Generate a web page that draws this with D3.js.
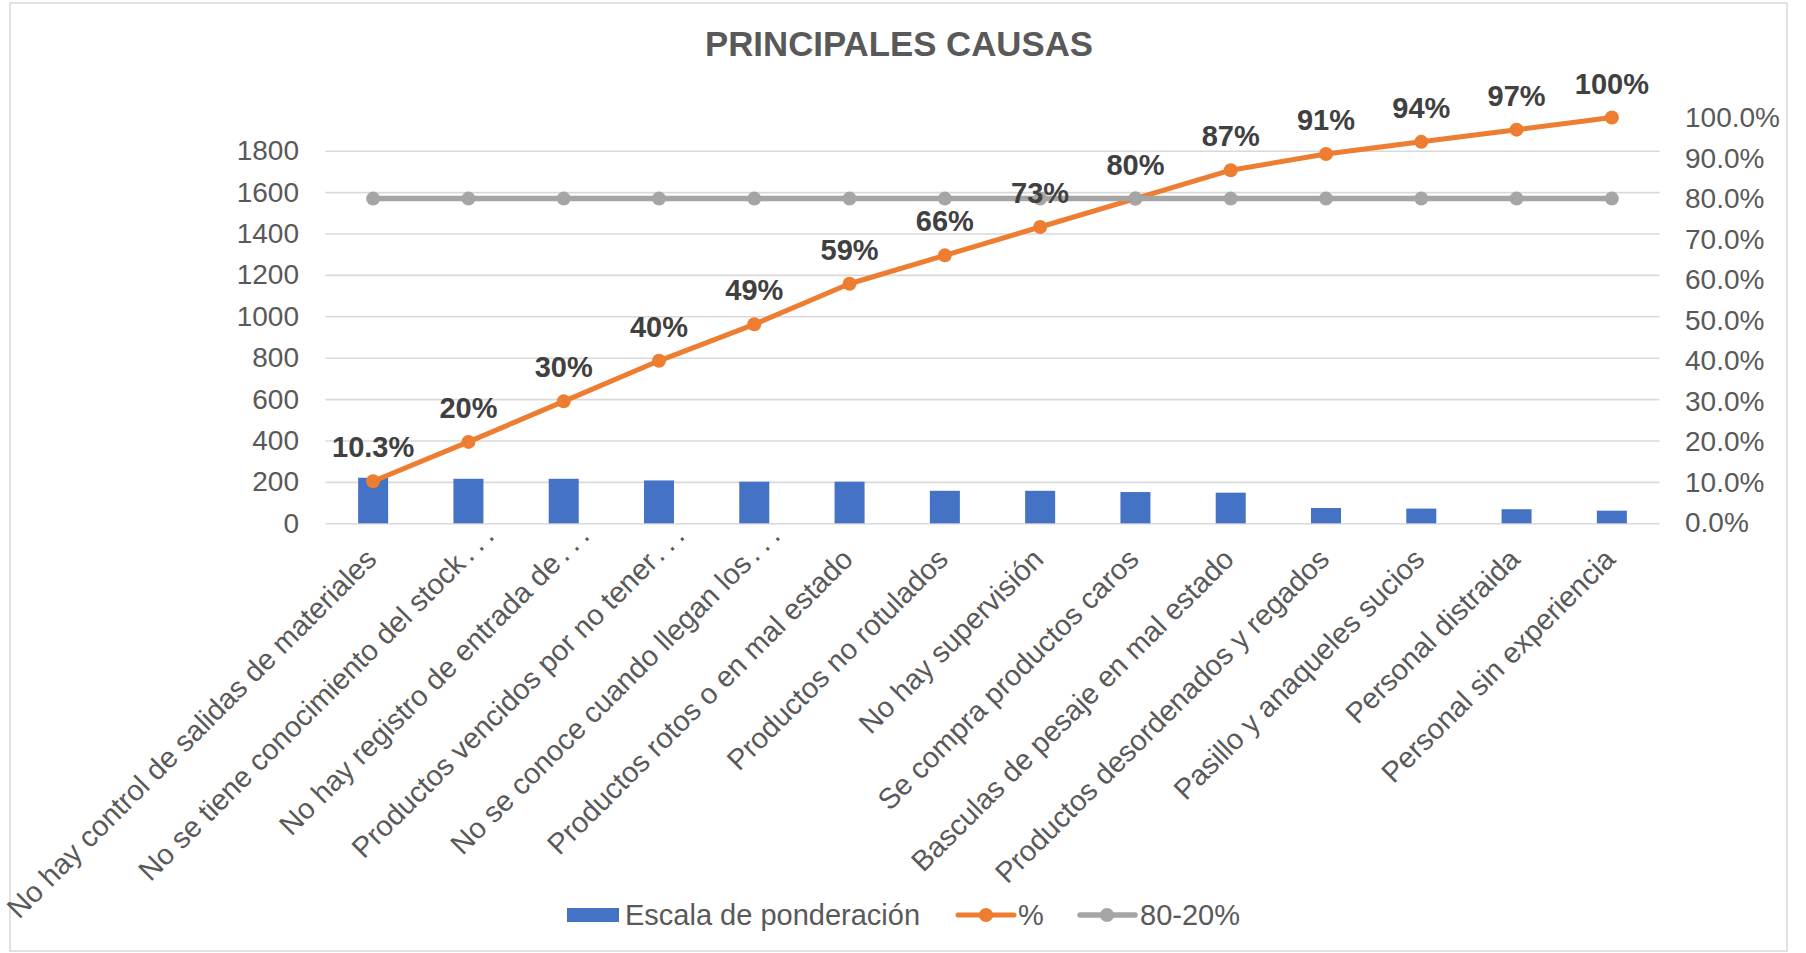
<!DOCTYPE html>
<html>
<head>
<meta charset="utf-8">
<script src="https://cdn.jsdelivr.net/npm/d3@7"></script>
<style>
  html, body { margin: 0; padding: 0; background: #ffffff; }
  svg { display: block; font-family: "Liberation Sans", Arial, sans-serif; }
</style>
</head>
<body>
<svg id="chart" width="1806" height="953"></svg>
<script>
const categories = [
  "No hay control de salidas de materiales",
  "No se tiene conocimiento del stock...",
  "No hay registro de entrada de...",
  "Productos vencidos por no tener...",
  "No se conoce cuando llegan los...",
  "Productos rotos o en mal estado",
  "Productos no rotulados",
  "No hay supervisi\u00f3n",
  "Se compra productos caros",
  "Basculas de pesaje en mal estado",
  "Productos desordenados y regados",
  "Pasillo y anaqueles sucios",
  "Personal distraida",
  "Personal sin experiencia"
];
const weights = [220, 215, 215, 207, 201, 201, 157, 157, 151, 148, 74, 71, 68, 61];
const cumulative = [0.103, 0.20, 0.30, 0.40, 0.49, 0.59, 0.66, 0.73, 0.80, 0.87, 0.91, 0.94, 0.97, 1.00];
const cumulativeLabels = ["10.3%", "20%", "30%", "40%", "49%", "59%", "66%", "73%", "80%", "87%", "91%", "94%", "97%", "100%"];
const threshold = [0.8, 0.8, 0.8, 0.8, 0.8, 0.8, 0.8, 0.8, 0.8, 0.8, 0.8, 0.8, 0.8, 0.8];
const leftTicks = [0, 200, 400, 600, 800, 1000, 1200, 1400, 1600, 1800];
const rightTicks = [0, 0.1, 0.2, 0.3, 0.4, 0.5, 0.6, 0.7, 0.8, 0.9, 1.0];
const seriesNames = ["Escala de ponderaci\u00f3n", "%", "80-20%"];
const title = "PRINCIPALES CAUSAS";

const svg = d3.select("#chart");
const colors = { bar: "#4472C4", pct: "#ED7D31", ref: "#A5A5A5", grid: "#D9D9D9", text: "#595959", label: "#404040" };
const FONT = 28;

// border
svg.append("rect").attr("x", 10).attr("y", 3).attr("width", 1777).attr("height", 948)
  .attr("fill", "#fff").attr("stroke", "#D9D9D9").attr("stroke-width", 1.5);

// title
svg.append("text").attr("x", 899).attr("y", 55.5).attr("text-anchor", "middle")
  .attr("font-size", 34.8).attr("font-weight", "bold").attr("fill", colors.text).text(title);

const x = d3.scaleBand().domain(categories).range([325.5, 1659.5]).padding(0);
const yL = d3.scaleLinear().domain([0, 1800]).range([523.3, 150.7]);
const yR = d3.scaleLinear().domain([0, 1]).range([523, 117.5]);

// gridlines
const grid = svg.append("g").attr("transform", "translate(325.5,0)")
  .call(d3.axisLeft(yL).tickValues(leftTicks).tickSize(-1334).tickFormat(""));
grid.select(".domain").remove();
grid.selectAll("line").attr("stroke", colors.grid).attr("stroke-width", 1.6);

// left axis labels
const la = svg.append("g").attr("transform", "translate(299,0)")
  .call(d3.axisLeft(yL).tickValues(leftTicks).tickSize(0).tickPadding(0).tickFormat(d3.format("d")));
la.select(".domain").remove();
la.selectAll("text").attr("font-size", FONT).attr("fill", colors.text)
  .attr("font-family", "'Liberation Sans', Arial, sans-serif");

// right axis labels
const ra = svg.append("g").attr("transform", "translate(1685,0)")
  .call(d3.axisRight(yR).tickValues(rightTicks).tickSize(0).tickPadding(0).tickFormat(d3.format(".1%")));
ra.select(".domain").remove();
ra.selectAll("text").attr("font-size", FONT).attr("fill", colors.text)
  .attr("font-family", "'Liberation Sans', Arial, sans-serif");

// bars
const barW = 30;
svg.append("g").selectAll("rect").data(weights).join("rect")
  .attr("x", (d, i) => x(categories[i]) + x.bandwidth() / 2 - barW / 2)
  .attr("y", d => yL(d))
  .attr("width", barW)
  .attr("height", d => yL(0) - yL(d))
  .attr("fill", colors.bar);

const cx = i => x(categories[i]) + x.bandwidth() / 2;

// cumulative % line
const line = d3.line().x((d, i) => cx(i)).y(d => yR(d));
svg.append("path").datum(cumulative).attr("d", line).attr("fill", "none")
  .attr("stroke", colors.pct).attr("stroke-width", 5).attr("stroke-linejoin", "round");
svg.append("g").selectAll("circle").data(cumulative).join("circle")
  .attr("cx", (d, i) => cx(i)).attr("cy", d => yR(d)).attr("r", 7).attr("fill", colors.pct);

// 80-20 line
svg.append("path").datum(threshold).attr("d", line).attr("fill", "none")
  .attr("stroke", colors.ref).attr("stroke-width", 5.5);
svg.append("g").selectAll("circle").data(threshold).join("circle")
  .attr("cx", (d, i) => cx(i)).attr("cy", d => yR(d)).attr("r", 7).attr("fill", colors.ref);

// data labels
svg.append("g").selectAll("text").data(cumulative).join("text")
  .attr("x", (d, i) => cx(i)).attr("y", d => yR(d) - 24)
  .attr("text-anchor", "middle").attr("font-size", 29).attr("font-weight", "bold")
  .attr("fill", colors.label).text((d, i) => cumulativeLabels[i]);

// category labels
const catText = svg.append("g").selectAll("text").data(categories).join("text")
  .attr("transform", (d, i) => {
    const trunc = d.endsWith("...");
    const ax = cx(i) + (trunc ? 27.3 : 5);
    const ay = trunc ? 537.2 : 561;
    return `translate(${ax},${ay}) rotate(-45)`;
  })
  .attr("text-anchor", "end").attr("font-size", 29).attr("fill", colors.text);
catText.each(function(d) {
  const t = d3.select(this);
  if (d.endsWith("...")) {
    t.append("tspan").text(d.slice(0, -3));
    t.append("tspan").attr("dx", 4).text(".");
    t.append("tspan").attr("dx", 6).text(".");
    t.append("tspan").attr("dx", 6).text(".");
  } else {
    t.text(d);
  }
});

// legend
const lg = svg.append("g");
lg.append("rect").attr("x", 567).attr("y", 908).attr("width", 52).attr("height", 14).attr("fill", colors.bar);
lg.append("text").attr("x", 625).attr("y", 925).attr("font-size", 29).attr("fill", colors.text).text(seriesNames[0]);
lg.append("line").attr("x1", 958).attr("x2", 1014).attr("y1", 915).attr("y2", 915)
  .attr("stroke", colors.pct).attr("stroke-width", 5).attr("stroke-linecap", "round");
lg.append("circle").attr("cx", 986).attr("cy", 915).attr("r", 7).attr("fill", colors.pct);
lg.append("text").attr("x", 1018).attr("y", 925).attr("font-size", 29).attr("fill", colors.text).text(seriesNames[1]);
lg.append("line").attr("x1", 1080).attr("x2", 1135).attr("y1", 915).attr("y2", 915)
  .attr("stroke", colors.ref).attr("stroke-width", 5.5).attr("stroke-linecap", "round");
lg.append("circle").attr("cx", 1107).attr("cy", 915).attr("r", 7).attr("fill", colors.ref);
lg.append("text").attr("x", 1140).attr("y", 925).attr("font-size", 29).attr("fill", colors.text).text(seriesNames[2]);
</script>
</body>
</html>
